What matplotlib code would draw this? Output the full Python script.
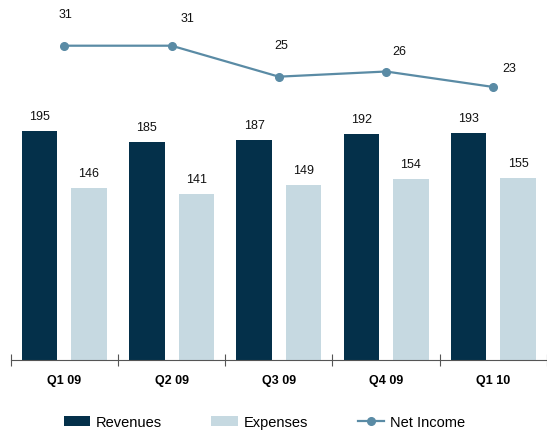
import matplotlib
matplotlib.use("Agg")
import matplotlib.pyplot as plt
import numpy as np

quarters = ["Q1 09", "Q2 09", "Q3 09", "Q4 09", "Q1 10"]
revenues = [195, 185, 187, 192, 193]
expenses = [146, 141, 149, 154, 155]
net_income = [31, 31, 25, 26, 23]

# nudges (pixels) for the net income labels so they clear the line
ni_label_dx = [1, 16, 2, 13, 16]
ni_label_dy = [32, 28, 32, 21, 19]

navy = "#04304a"
pale = "#c6d9e1"
steel = "#5a8ba5"

plt.rcParams['font.family'] = ['Liberation Sans', 'DejaVu Sans']

fig = plt.figure(figsize=(5.47, 4.31), dpi=100)
ax = fig.add_axes([10.7/547, 70/431, 536.3/547, 361/431])

x = np.arange(len(quarters))
w = 0.331
off = 0.23
b1 = ax.bar(x - off, revenues, w, color=navy, label="Revenues")
b2 = ax.bar(x + off, expenses, w, color=pale, label="Expenses")
for bars, vals in ((b1, revenues), (b2, expenses)):
    for rect, v in zip(bars, vals):
        ax.annotate(str(v), (rect.get_x() + rect.get_width()/2, v),
                    xytext=(0, 15), textcoords="offset pixels",
                    ha="center", va="center", fontsize=9, color="#111111")

ax.set_xlim(-0.5, 4.43)
ax.set_ylim(0, 307)
for s in ("top", "right", "left"):
    ax.spines[s].set_visible(False)
ax.spines["bottom"].set_color("#555555")
ax.set_yticks([])
ax.set_xticks(np.arange(-0.5, 4.6, 1))
ax.set_xticklabels([])
ax.tick_params(axis="x", which="major", direction="inout", length=8, color="#555555")
ax.set_xticks(x, minor=True)
ax.set_xticklabels(quarters, minor=True, fontweight="bold", fontsize=9)
ax.tick_params(axis="x", which="minor", length=0, pad=10)

# net income on its own scale above the bars
ax2 = ax.twinx()
ax2.set_ylim(-29.9, 40.05)
ln, = ax2.plot(x, net_income, color=steel, lw=1.6, marker="o", ms=5.5, label="Net Income")
for xi, v, dx, dy in zip(x, net_income, ni_label_dx, ni_label_dy):
    ax2.annotate(str(v), (xi, v), xytext=(dx, dy), textcoords="offset pixels",
                 ha="center", va="center", fontsize=9, color="#111111")
ax2.set_axis_off()

fig.legend([b1, b2, ln], ["Revenues", "Expenses", "Net Income"],
           loc="center", bbox_to_anchor=(0.483, 8/431), ncol=3, frameon=False,
           fontsize=10.5, handlelength=1.8, handleheight=0.7, handletextpad=0.4,
           columnspacing=3.4)

fig.savefig("out.png", dpi=100)
